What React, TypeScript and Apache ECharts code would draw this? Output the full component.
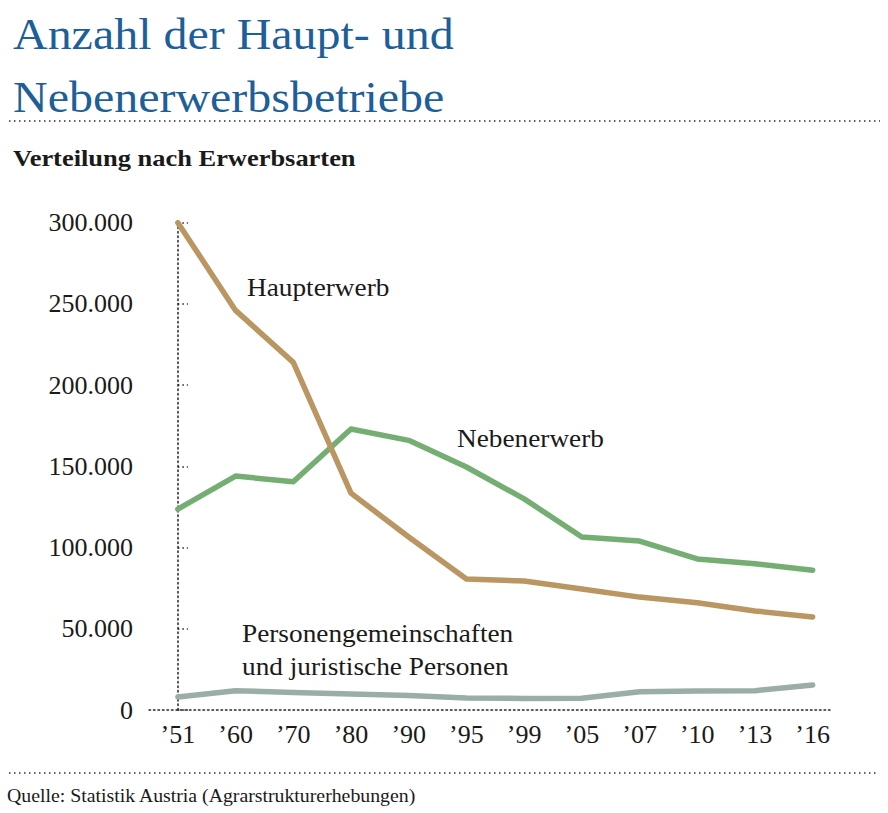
import React, { useEffect, useRef } from "react";
import * as echarts from "echarts";

const categories = ["’51", "’60", "’70", "’80", "’90", "’95", "’99", "’05", "’07", "’10", "’13", "’16"];
const haupterwerb = [300000, 246000, 214000, 133500, 106500, 80600, 79400, 74500, 69500, 66000, 61000, 57300];
const nebenerwerb = [123700, 144000, 140500, 173000, 166000, 149600, 130000, 106500, 104000, 93000, 90000, 86000];
const personen = [8000, 11900, 10800, 9800, 8900, 7400, 7100, 7300, 11300, 11700, 11900, 15400];
const yTicks = [0, 50000, 100000, 150000, 200000, 250000, 300000];

const SERIF = "Liberation Serif";
const TEXT = "#1a1a1a";

function fmt(v: number): string {
  return String(v).replace(/\B(?=(\d{3})+(?!\d))/g, ".");
}

export default function App() {
  const ref = useRef<HTMLDivElement>(null);
  useEffect(() => {
    if (!ref.current) return;
    const chart = echarts.init(ref.current, undefined, { renderer: "svg" });
    const toPairs = (arr: number[]) => arr.map((v, i) => [i, v]);
    chart.setOption({
      animation: false,
      backgroundColor: "#ffffff",
      grid: { left: 149, right: 58, top: 222.7, bottom: 103, containLabel: false },
      xAxis: {
        type: "value",
        min: -0.5,
        max: 11.3,
        interval: 0.5,
        axisLine: { show: true, lineStyle: { color: "#222", type: [1.5, 3], width: 1.5 } },
        axisTick: { show: false },
        splitLine: { show: false },
        axisLabel: {
          color: TEXT,
          fontFamily: SERIF,
          fontSize: 26,
          margin: 11,
          showMinLabel: false,
          showMaxLabel: false,
          formatter: (v: number) => {
            const r = Math.round(v);
            return Math.abs(v - r) < 1e-6 && r >= 0 && r < categories.length ? categories[r] : "";
          },
        },
      },
      yAxis: {
        type: "value",
        min: yTicks[0],
        max: yTicks[yTicks.length - 1],
        interval: 50000,
        axisLine: { show: true, lineStyle: { color: "#222", type: [1.5, 3], width: 1.5 } },
        axisTick: { show: true, inside: true, length: 10, lineStyle: { color: "#222", type: [1.5, 3], width: 1.5 } },
        splitLine: { show: false },
        axisLabel: {
          color: TEXT,
          fontFamily: SERIF,
          fontSize: 26,
          margin: 16,
          formatter: (v: number) => fmt(v),
        },
      },
      series: [
        {
          name: "Personengemeinschaften und juristische Personen",
          type: "line",
          data: toPairs(personen),
          symbol: "none",
          lineStyle: { color: "#9aaea5", width: 5.5, cap: "round", join: "round" },
          z: 2,
        },
        {
          name: "Nebenerwerb",
          type: "line",
          data: toPairs(nebenerwerb),
          symbol: "none",
          lineStyle: { color: "#74ae72", width: 5.5, cap: "round", join: "round" },
          z: 3,
        },
        {
          name: "Haupterwerb",
          type: "line",
          data: toPairs(haupterwerb),
          symbol: "none",
          lineStyle: { color: "#b99662", width: 5.5, cap: "round", join: "round" },
          z: 4,
        },
      ],
      graphic: [
        {
          type: "text",
          x: 13,
          y: 3,
          scaleX: 1.09,
          style: {
            text: "Anzahl der Haupt- und\nNebenerwerbsbetriebe",
            fill: "#1d5f98",
            fontFamily: SERIF,
            fontSize: 44,
            lineHeight: 63,
          },
        },
        {
          type: "line",
          shape: { x1: 9, y1: 121, x2: 880, y2: 121 },
          style: { stroke: "#333", lineWidth: 1.5, lineDash: [1.5, 3.5] },
        },
        {
          type: "text",
          x: 13,
          y: 147,
          scaleX: 1.15,
          style: {
            text: "Verteilung nach Erwerbsarten",
            fill: TEXT,
            fontFamily: SERIF,
            fontWeight: "bold",
            fontSize: 23,
          },
        },
        {
          type: "text",
          x: 247,
          y: 274,
          scaleX: 1.05,
          style: { text: "Haupterwerb", fill: TEXT, fontFamily: SERIF, fontSize: 26 },
        },
        {
          type: "text",
          x: 457,
          y: 425,
          scaleX: 1.05,
          style: { text: "Nebenerwerb", fill: TEXT, fontFamily: SERIF, fontSize: 26 },
        },
        {
          type: "text",
          x: 242,
          y: 617,
          scaleX: 1.05,
          style: {
            text: "Personengemeinschaften\nund juristische Personen",
            fill: TEXT,
            fontFamily: SERIF,
            fontSize: 26,
            lineHeight: 33,
          },
        },
        {
          type: "line",
          shape: { x1: 9, y1: 773, x2: 878, y2: 773 },
          style: { stroke: "#333", lineWidth: 1.5, lineDash: [1.5, 3.5] },
        },
        {
          type: "text",
          x: 7,
          y: 787,
          scaleX: 1.1,
          style: {
            text: "Quelle: Statistik Austria (Agrarstrukturerhebungen)",
            fill: TEXT,
            fontFamily: SERIF,
            fontSize: 18,
          },
        },
      ],
    });
    return () => chart.dispose();
  }, []);
  return (
    <div
      ref={ref}
      style={{ position: "fixed", left: 0, top: 0, width: 888, height: 813, background: "#fff" }}
    />
  );
}
